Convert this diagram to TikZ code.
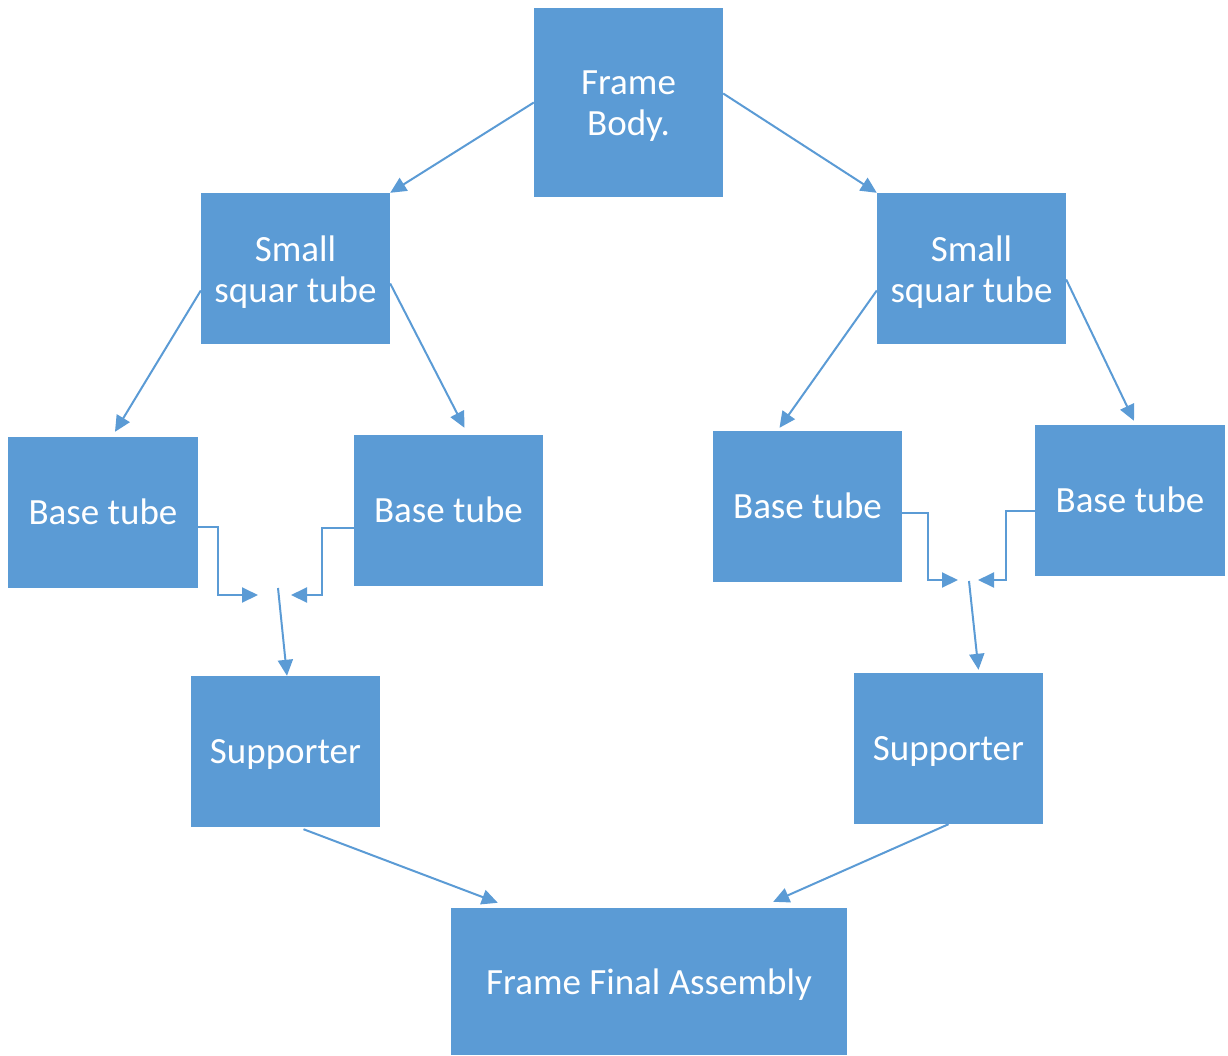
\documentclass[tikz,border=0pt]{standalone}
\usepackage{fontspec}
\setmainfont{Carlito}
\usetikzlibrary{arrows.meta}
\definecolor{obl}{HTML}{5B9BD5}
\begin{document}
\begin{tikzpicture}[x=1pt,y=-1pt,
  box/.style={fill=obl, draw=none, minimum width=189pt, minimum height=151pt, inner sep=0pt},
  txt/.style={text=white, align=center, inner sep=0pt, font=\fontsize{37}{41}\selectfont},
  txtm/.style={txt, yshift=-3.5pt},
  txtd/.style={txt, yshift=-3pt},
  conn/.style={draw=obl, line width=2pt, -{Triangle[length=16pt,width=15pt]}}]
\useasboundingbox (0,0) rectangle (1228,1055);
\node[box, minimum height=189pt, label={[txtm]center:Frame\\Body.}] (fb) at (628.5,102.5) {};
\node[box, label={[txtm]center:Small\\squar tube}] (sl) at (295.5,268.5) {};
\node[box, label={[txtm]center:Small\\squar tube}] (sr) at (971.5,268.5) {};
\node[box, minimum width=190pt, label={[txt, yshift=0.5pt]center:Base tube}] (b1) at (103,512.5) {};
\node[box, label={[txt, yshift=0.5pt]center:Base tube}] (b2) at (448.5,510.5) {};
\node[box, label={[txt, yshift=0.5pt]center:Base tube}] (b3) at (807.5,506.5) {};
\node[box, minimum width=190pt, label={[txt, yshift=0.5pt]center:Base tube}] (b4) at (1130,500.5) {};
\node[box, label={[txtd]center:Supporter}] (spl) at (285.5,751.5) {};
\node[box, label={[txtd]center:Supporter}] (spr) at (948.5,748.5) {};
\node[box, minimum width=396pt, minimum height=147pt, label={[txtd]center:Frame Final Assembly}] (ffa) at (649,981.5) {};
\coordinate (jl) at (275,595);
\coordinate (jr) at (968,580);
% top
\draw[conn] (fb.west) -- (sl.north east);
\draw[conn] ([yshift=9pt]fb.east) -- (sr.north west);
% small tubes to base tubes
\draw[conn] ([yshift=-22pt]sl.west) -- ([xshift=12pt,yshift=5pt]b1.north);
\draw[conn] ([yshift=-15pt]sl.east) -- ([xshift=16pt,yshift=7pt]b2.north);
\draw[conn] ([yshift=-22pt]sr.west) -- ([xshift=-28pt,yshift=3pt]b3.north);
\draw[conn] ([yshift=-11pt]sr.east) -- ([xshift=4pt,yshift=4pt]b4.north);
% left junction
\draw[conn] ([yshift=-14pt]b1.east) -- ++(20,0) |- ([xshift=-17pt]jl);
\draw[conn] ([yshift=-17.5pt]b2.west) -- ++(-32,0) |- ([xshift=16pt]jl);
\draw[conn] ([xshift=3pt,yshift=7pt]jl) -- ([xshift=1.5pt]spl.north);
% right junction
\draw[conn] ([yshift=-6.5pt]b3.east) -- ++(26,0) |- ([xshift=-10pt]jr);
\draw[conn] ([yshift=-10.5pt]b4.west) -- ++(-29,0) |- ([xshift=10pt]jr);
\draw[conn] ([xshift=1pt,yshift=-1pt]jr) -- ([xshift=30pt,yshift=3pt]spr.north);
% to final assembly
\draw[conn] ([xshift=18pt,yshift=-2pt]spl.south) -- ([xshift=47pt,yshift=5pt]ffa.north west);
\draw[conn] (spr.south) -- ([xshift=-74pt,yshift=6pt]ffa.north east);
\end{tikzpicture}
\end{document}
